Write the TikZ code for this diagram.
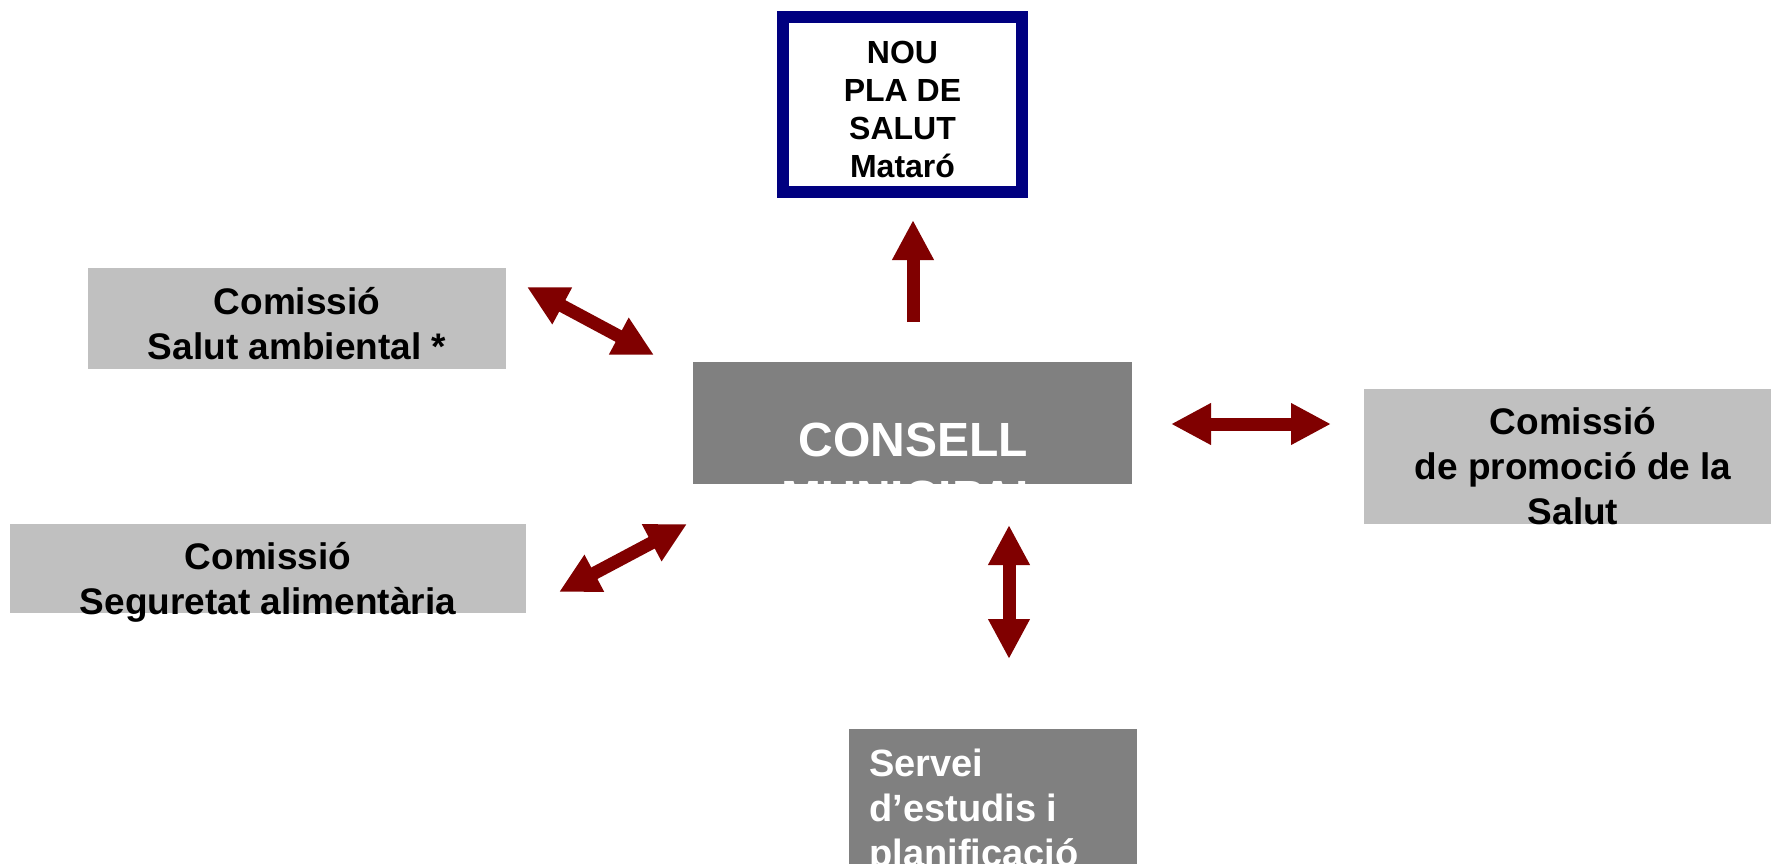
\documentclass[tikz,border=0pt]{standalone}
\usepackage{fontspec}
\setmainfont{Liberation Sans}
\usetikzlibrary{arrows.meta,positioning}
\definecolor{arrowred}{HTML}{800000}
\definecolor{planblue}{HTML}{000080}
\definecolor{lightbox}{HTML}{C0C0C0}
\definecolor{darkbox}{HTML}{808080}

\begin{document}
\begin{tikzpicture}[x=0.5pt,y=-0.5pt,>={Triangle[length=20pt,width=19.5pt]},
    link/.style={<->,line width=6.5pt,arrowred},
    uplink/.style={->,line width=6.5pt,arrowred},
    box/.style={rectangle,inner sep=0pt,outer sep=0pt},
    txt/.style={inner sep=0pt,align=center,font=\bfseries\fontsize{18.5}{22.5}\selectfont}]

    \clip (0,0) rectangle (1771,863);
    \fill[white] (0,0) rectangle (1771,863);

    % boxes
    \node[box,draw=planblue,line width=6pt,minimum width=119.5pt,minimum height=87.5pt] (pla) at (902.5,104.5) {};
    \node[box,fill=darkbox,minimum width=219.5pt,minimum height=61pt] (consell) at (912.5,423) {};
    \node[box,fill=lightbox,minimum width=209pt,minimum height=50.5pt] (ambiental) at (297,318.5) {};
    \node[box,fill=lightbox,minimum width=258pt,minimum height=44.5pt] (seguretat) at (268,568.5) {};
    \node[box,fill=lightbox,minimum width=213pt,minimum height=67.5pt] (promocio) at (1577,456.5) {};
    \node[box,fill=darkbox,minimum width=144pt,minimum height=80.5pt] (servei) at (993,809.5) {};

    % texts
    \node[txt,font=\bfseries\fontsize{16}{19}\selectfont] (pla-text) at (902.5,109.7) {NOU\\PLA DE\\SALUT\\Mataró};
    \node[txt,white,font=\bfseries\fontsize{24}{29}\selectfont] (consell-text) at (913,468.8) {CONSELL\\MUNICIPAL};
    \node[txt] (ambiental-text) at (297,324) {Comissió\\Salut ambiental *};
    \node[txt] (seguretat-text) at (268,582) {Comissió\\Seguretat alimentària};
    \node[txt] (promocio-text) at (1573,466) {Comissió\\de promoció de la\\Salut};
    \node[txt,white,align=left,anchor=west,font=\bfseries\fontsize{19}{22.5}\selectfont] (servei-text) at (869,811.4) {Servei\\d’estudis i\\planificació};

    % arrows
    \coordinate (up-a) at (913,322);
    \coordinate (up-b) at (913,220);
    \coordinate (amb-a) at (527,287);
    \coordinate (amb-b) at (654,355);
    \coordinate (seg-a) at (559,592);
    \coordinate (seg-b) at (687,524);
    \coordinate (pro-a) at (1171,424);
    \coordinate (pro-b) at (1331,424);
    \coordinate (ser-a) at (1009,525);
    \coordinate (ser-b) at (1009,659);

    \draw[uplink] (up-a) -- (up-b);
    \draw[link] (amb-a) -- (amb-b);
    \draw[link] (seg-a) -- (seg-b);
    \draw[link] (pro-a) -- (pro-b);
    \draw[link] (ser-a) -- (ser-b);
\end{tikzpicture}
\end{document}
